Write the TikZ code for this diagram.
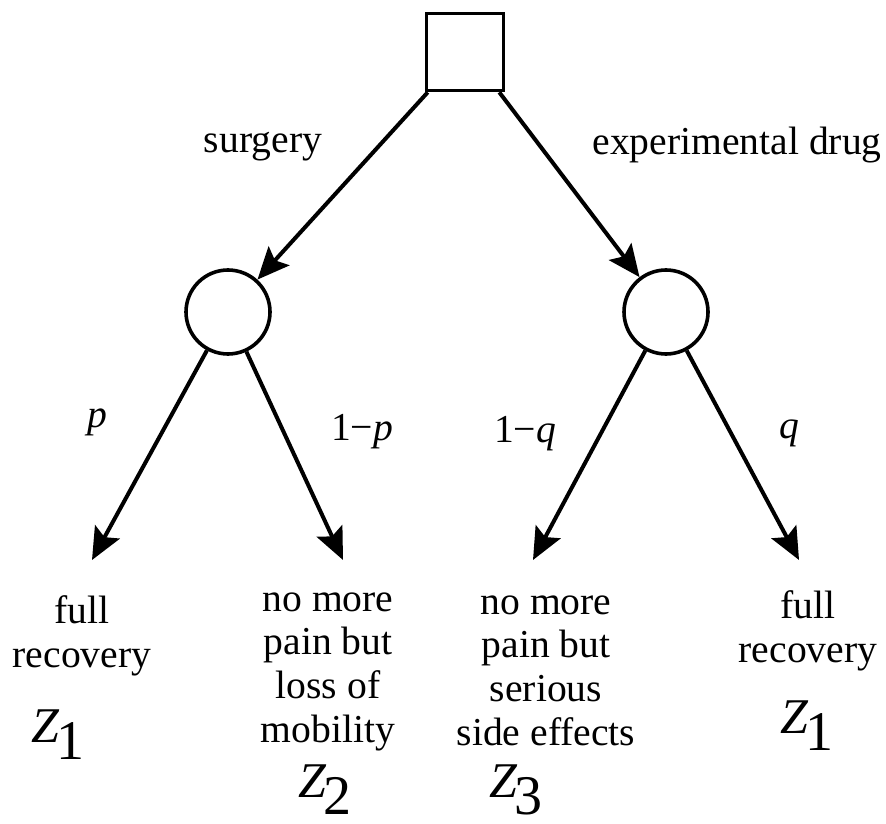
\documentclass[tikz,border=0pt]{standalone}
\usepackage{fontspec}
\setmainfont{Liberation Serif}
\usetikzlibrary{arrows.meta, positioning}

\newcommand{\zval}[1]{{\fontsize{25}{25}\selectfont\itshape Z}\kern-1.5pt\raisebox{-8.5pt}{\fontsize{28}{28}\selectfont #1}}

\begin{document}
\begin{tikzpicture}[
    x=0.5pt, y=-0.5pt,
    every node/.style={color=black, font=\fontsize{19.8}{21.8}\selectfont},
    decbox/.style={draw, rectangle, minimum size=38.5pt, line width=1.8pt, inner sep=0pt},
    chance/.style={draw, circle, minimum size=42pt, line width=1.8pt, inner sep=0pt},
    arrow/.style={-{Stealth[length=16pt, width=14pt, inset=3pt]}, line width=2pt, color=black},
    lbl/.style={anchor=base, inner sep=0pt},
    outcome/.style={align=center, anchor=base, inner sep=0pt},
    zlbl/.style={anchor=base, inner sep=0pt}
]
\useasboundingbox (0,0) rectangle (886,823);

% --- Decision and chance nodes ---
\node[decbox] (dec) at (465,52) {};
\node[chance] (chL) at (228,312) {};
\node[chance] (chR) at (666,312) {};

% --- Arrow tips above the outcomes ---
\coordinate (tLL) at (92,560);
\coordinate (tLR) at (343,560);
\coordinate (tRL) at (533,560);
\coordinate (tRR) at (799,560);

% --- Branches ---
\draw[arrow] ([xshift=1.5pt]dec.south west) -- (chL);
\draw[arrow] ([xshift=-3pt]dec.south east) -- (chR);
\draw[arrow] (chL) -- (tLL);
\draw[arrow] (chL) -- (tLR);
\draw[arrow] (chR) -- (tRL);
\draw[arrow] (chR) -- (tRR);

% --- Branch labels ---
\node[lbl] (lsur) at (263,153) {surgery};
\node[lbl] (ldrug) at (737,155) {experimental drug};
\node[lbl] (lp) at (97,427) {\textit{p}};
\node[lbl] (lnp) at (362,440) {1−\textit{p}};
\node[lbl] (lnq) at (525,442) {1−\textit{q}};
\node[lbl] (lq) at (789,438) {\textit{q}};

% --- Outcomes (base = last line) ---
\node[outcome] (oLL) at (82,667) {full\\recovery};
\node[outcome] (oLR) at (328,742) {no more\\pain but\\loss of\\mobility};
\node[outcome] (oRL) at (546,745) {no more\\pain but\\serious\\side effects};
\node[outcome] (oRR) at (808,662) {full\\recovery};

% --- Utilities ---
\node[zlbl] (zLL) at (58,742) {\zval{1}};
\node[zlbl] (zLR) at (325,797) {\zval{2}};
\node[zlbl] (zRL) at (516,797) {\zval{3}};
\node[zlbl] (zRR) at (807,733) {\zval{1}};

\end{tikzpicture}
\end{document}
